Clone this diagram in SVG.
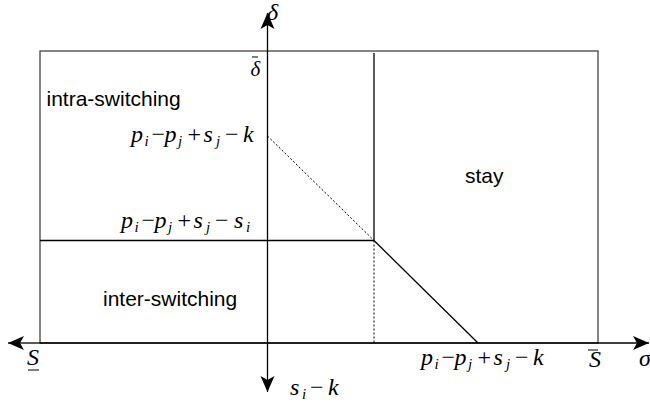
<svg xmlns="http://www.w3.org/2000/svg" width="650" height="404" viewBox="0 0 650 404">
<style>
.ax{stroke:#000;stroke-width:1.3;fill:none}
.ln{stroke:#000;stroke-width:1.3;fill:none}
.dot{stroke:#000;stroke-width:1;stroke-dasharray:2 2;fill:none}
.box{stroke:#444;stroke-width:1.3;fill:none}
.lbl{font-family:"Liberation Sans",Arial,sans-serif;font-size:21px;fill:#000}
.m{font-family:"Liberation Serif","Times New Roman",serif;font-size:24px;fill:#000}
.mi{font-style:italic}
.sb{font-size:15px;font-style:italic}
.bar{stroke:#000;stroke-width:1}
</style>
<defs>
<marker id="arr" markerUnits="userSpaceOnUse" markerWidth="18" markerHeight="16" refX="16" refY="8" orient="auto">
<path d="M16,8 L0,1 L4,8 L0,15 Z" fill="#000"/>
</marker>
</defs>
<g id="frame">
<rect class="box" x="40" y="51" width="558" height="292"/>
</g>
<g id="connectors">
<line class="ax" x1="40" y1="343" x2="8" y2="343" marker-end="url(#arr)"/>
<line class="ax" x1="40" y1="343" x2="649" y2="343" marker-end="url(#arr)"/>
<line class="ax" x1="267.5" y1="343" x2="267.5" y2="13" marker-end="url(#arr)"/>
<line class="ax" x1="267.5" y1="343" x2="267.5" y2="392" marker-end="url(#arr)"/>
<line class="ln" x1="374" y1="53" x2="374" y2="240.5"/>
<line class="ln" x1="40" y1="240.5" x2="374" y2="240.5"/>
<line class="ln" x1="374" y1="240.5" x2="478" y2="343"/>
<line class="dot" x1="267.5" y1="136" x2="374" y2="240.5"/>
<line class="dot" x1="374" y1="240.5" x2="374" y2="343"/>
</g>
<g id="region-intra"><text class="lbl" x="46.5" y="106">intra-switching</text></g>
<g id="region-stay"><text class="lbl" x="465" y="183">stay</text></g>
<g id="region-inter"><text class="lbl" x="103" y="306">inter-switching</text></g>
<g id="axis-labels">
<text class="m mi" x="267" y="20">δ</text>
<line class="bar" x1="252" y1="57" x2="258" y2="57"/>
<text class="m mi" x="250.5" y="76" style="font-size:21px">δ</text>
<line class="bar" x1="28" y1="370" x2="39" y2="370"/>
<text class="m mi" x="27" y="365">S</text>
<line class="bar" x1="588" y1="350" x2="598" y2="350"/>
<text class="m mi" x="589" y="367">S</text>
<text class="m mi" x="639" y="366">σ</text>
<text class="m"><tspan class="mi" x="290" y="395">s</tspan><tspan class="sb" x="302" y="399">i</tspan><tspan x="310" y="395">−</tspan><tspan class="mi" x="328" y="395">k</tspan></text>
</g>
<g id="math-labels">
<text class="m"><tspan class="mi" x="131" y="142">p</tspan><tspan class="sb" x="144.5" y="146">i</tspan><tspan x="151.5" y="142">−</tspan><tspan class="mi" x="164.5" y="142">p</tspan><tspan class="sb" x="178" y="146">j</tspan><tspan x="187.5" y="142">+</tspan><tspan class="mi" x="203.5" y="142">s</tspan><tspan class="sb" x="216" y="146">j</tspan><tspan x="225" y="142">−</tspan><tspan class="mi" x="243" y="142">k</tspan></text>
<text class="m"><tspan class="mi" x="121" y="228">p</tspan><tspan class="sb" x="134.5" y="232">i</tspan><tspan x="141.5" y="228">−</tspan><tspan class="mi" x="154.5" y="228">p</tspan><tspan class="sb" x="168" y="232">j</tspan><tspan x="177.5" y="228">+</tspan><tspan class="mi" x="193.5" y="228">s</tspan><tspan class="sb" x="206" y="232">j</tspan><tspan x="215" y="228">−</tspan><tspan class="mi" x="234" y="228">s</tspan><tspan class="sb" x="246" y="232">i</tspan></text>
<text class="m"><tspan class="mi" x="421" y="365">p</tspan><tspan class="sb" x="434.5" y="369">i</tspan><tspan x="441.5" y="365">−</tspan><tspan class="mi" x="454.5" y="365">p</tspan><tspan class="sb" x="468" y="369">j</tspan><tspan x="477.5" y="365">+</tspan><tspan class="mi" x="493.5" y="365">s</tspan><tspan class="sb" x="506" y="369">j</tspan><tspan x="515" y="365">−</tspan><tspan class="mi" x="533" y="365">k</tspan></text>
</g>
</svg>
